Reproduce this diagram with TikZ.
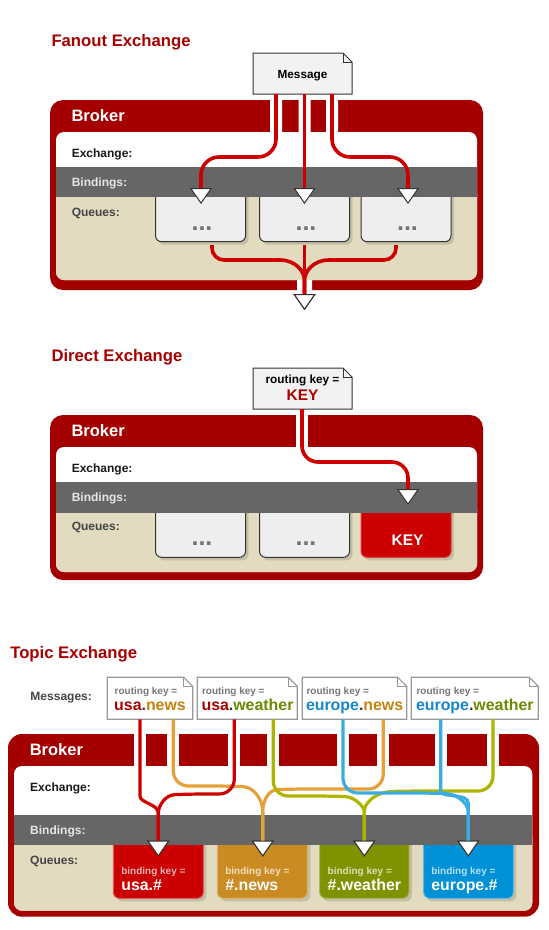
\documentclass[tikz,border=0pt]{standalone}
\usepackage{fontspec}
\setmainfont{Liberation Sans}
\usetikzlibrary{arrows.meta,calc}
\definecolor{brokerred}{HTML}{A40000}
\definecolor{titlered}{HTML}{A80000}
\definecolor{beige}{HTML}{E2DBBF}
\definecolor{bandgray}{HTML}{666666}
\definecolor{linered}{HTML}{CC0000}
\definecolor{qred}{HTML}{CC0000}
\definecolor{qorange}{HTML}{C98B22}
\definecolor{qolive}{HTML}{7F9200}
\definecolor{qblue}{HTML}{0091D6}
\definecolor{lorange}{HTML}{E5A03A}
\definecolor{lolive}{HTML}{AEB500}
\definecolor{lblue}{HTML}{3BACE2}
\definecolor{tred}{HTML}{AA0000}
\definecolor{torange}{HTML}{C4820E}
\definecolor{tolive}{HTML}{6B8A00}
\definecolor{tblue}{HTML}{1787C9}
\definecolor{tdot}{HTML}{333333}
\definecolor{notegray}{HTML}{F2F2F2}
\definecolor{qlightfill}{HTML}{EEEEEE}
\definecolor{bindtxt}{HTML}{E6E6E6}
\definecolor{qtxt}{HTML}{444444}
\definecolor{rkgray}{HTML}{777777}
\definecolor{arrowgray}{HTML}{333333}
\newcommand\fsz[1]{\fontsize{#1}{#1}\selectfont}
\newcommand\notebox[6]{%
  \node[inner sep=0pt, outer sep=0pt, minimum width={#4-#2}, minimum height={#5-#3}] (#1) at ({(#2+#4)/2},{(#3+#5)/2}) {};
  \filldraw[#6] (#1.south west) -- (#1.north west) -- ($(#1.north east)+(-9,0)$) -- ($(#1.north east)+(0,9)$) -- (#1.south east) -- cycle;
  \draw[#6,fill=none] ($(#1.north east)+(-9,0)$) -- ($(#1.north east)+(-9,9)$) -- ($(#1.north east)+(0,9)$);
}
\newcommand\queuebox[6]{%
  \fill[black, opacity=0.13, rounded corners=6] ({#2+3},{#4+3}) rectangle ({#3+3},{#5+3});
  \node[inner sep=0pt, outer sep=0pt, minimum width={#3-#2}, minimum height={#5-#4}, rounded corners=6, #6] (#1) at ({(#2+#3)/2},{(#4+#5)/2}) {};
}
\begin{document}
\begin{tikzpicture}[x=1pt,y=-1pt,
  every node/.style={inner sep=0pt, outer sep=0pt},
  title/.style={anchor=base west, font=\bfseries\fsz{16.7}, text=titlered},
  brokertxt/.style={anchor=base west, font=\bfseries\fsz{16.5}, text=white},
  lbl/.style={anchor=base west, font=\bfseries\fsz{12}, text=black!90},
  dots/.style={anchor=base, font=\bfseries\fsz{25}, text=black!55},
  note/.style={fill=notegray, draw=arrowgray, line width=1pt},
  notet/.style={fill=white, draw=black!40, line width=1.2pt},
  qlight/.style={fill=qlightfill, draw=arrowgray, line width=1pt},
  qkey/.style={fill=qred, draw=qred!75!white, line width=1pt},
  qc/.style={fill=#1, draw=#1!65!white, line width=1pt},
  bk/.style={anchor=base west, font=\bfseries\fsz{10}},
  bv/.style={anchor=base west, font=\bfseries\fsz{15.9}, text=white},
  flowtip/.style={-{Triangle[width=22pt,length=16pt,fill=white,color=arrowgray,line width=1pt]}},
  fanline/.style={draw=linered, line width=3.6pt, rounded corners=18, flowtip},
  tline/.style={draw=#1, line width=3.2pt, rounded corners=15, flowtip},
]
\useasboundingbox (0,0) rectangle (549,930);

% ================= Fanout =================
\node[title] (tF) at (51.5,46) {Fanout Exchange};
\fill[brokerred, rounded corners=13] (50,100) rectangle (483,290);
\fill[white] (270,100) rectangle (282,132) (298.5,100) rectangle (310.5,132) (326,100) rectangle (338,132) (297,280) rectangle (312,290);
\fill[white, rounded corners=8] (56,132) rectangle (477,280);
\fill[beige, rounded corners=8] (56,185) rectangle (477,280);
\queuebox{qF1}{155.5}{245.5}{185}{241.7}{qlight}
\queuebox{qF2}{259.5}{349.5}{185}{241.7}{qlight}
\queuebox{qF3}{361}{451}{185}{241.7}{qlight}
\fill[bandgray] (56,167) rectangle (477,197);
\node[brokertxt] (kF) at (71.5,121.3) {Broker};
\node[lbl] (eF) at (71.8,157.3) {Exchange:};
\node[lbl, text=bindtxt] (bF) at (71.8,186) {Bindings:};
\node[lbl, text=qtxt] (uF) at (71.8,216) {Queues:};
\node[dots] (dF1) at (202,230) {...};
\node[dots] (dF2) at (306,230) {...};
\node[dots] (dF3) at (407.5,230) {...};
\notebox{mF}{253}{53}{352}{94}{note}
\node[anchor=base, font=\bfseries\fsz{11.8}] (mFt) at (302.5,78.7) {Message};
\coordinate (aF1) at (201,204);
\coordinate (aF2) at (304.5,204);
\coordinate (aF3) at (408,204);
\coordinate (aF4) at (304.5,310);
\draw[fanline] ($(mF.south west)+(23,0)$) -- (276,157) -- (201,157) -- (aF1);
\draw[fanline] ($(mF.south west)+(51.5,0)$) -- (aF2);
\draw[fanline] ($(mF.south west)+(79,0)$) -- (332,157) -- (408,157) -- (aF3);
\draw[fanline, rounded corners=12] ($(qF1.south)+(11.5,3.3)$) |- (268,260) .. controls (296,260) and (304.5,272) .. (304.5,292) -- (aF4);
\draw[fanline, rounded corners=12] ($(qF3.south)+(-10,3.3)$) |- (341,260) .. controls (313,260) and (304.5,272) .. (304.5,292) -- (aF4);
\draw[fanline] ($(qF2.south)+(0,3.3)$) -- (aF4);

% ================= Direct =================
\node[title] (tD) at (51.5,361) {Direct Exchange};
\fill[brokerred, rounded corners=13] (50,415) rectangle (483,580);
\fill[white] (296,415) rectangle (308,447);
\fill[white, rounded corners=8] (56,447) rectangle (477,572);
\fill[beige, rounded corners=8] (56,500) rectangle (477,572);
\queuebox{qD1}{155.5}{245.5}{500}{557.3}{qlight}
\queuebox{qD2}{259.5}{349.5}{500}{557.3}{qlight}
\queuebox{qD3}{361}{451}{500}{557.3}{qkey}
\fill[bandgray] (56,482) rectangle (477,513);
\node[brokertxt] (kD) at (71.5,436.3) {Broker};
\node[lbl] (eD) at (71.8,472) {Exchange:};
\node[lbl, text=bindtxt] (bD) at (71.8,501.3) {Bindings:};
\node[lbl, text=qtxt] (uD) at (71.8,530.7) {Queues:};
\node[dots] (dD1) at (202,545) {...};
\node[dots] (dD2) at (306,545) {...};
\node[anchor=base, font=\bfseries\fsz{15.4}, text=white] (kyD) at (407.5,545.3) {KEY};
\notebox{mD}{253}{368}{352}{409}{note}
\node[anchor=base, font=\bfseries\fsz{11.8}] (mDt) at (302.5,383.3) {routing key =};
\node[anchor=base, font=\bfseries\fsz{15.4}, text=tred] (mDk) at (302.5,400.3) {KEY};
\coordinate (aD) at (408,505);
\draw[fanline, rounded corners=16] ($(mD.south west)+(49,0)$) -- (302,462) -- (408,462) -- (aD);

% ================= Topic =================
\node[title] (tT) at (10.3,658.3) {Topic Exchange};
\node[lbl, text=qtxt] (msgT) at (30.5,700.3) {Messages:};
\notebox{mT1}{107.3}{677.3}{192.7}{719.3}{notet}
\notebox{mT2}{197.3}{677.3}{297.3}{719.3}{notet}
\notebox{mT3}{302.3}{677.3}{406.7}{719.3}{notet}
\notebox{mT4}{411.3}{677.3}{538.3}{719.3}{notet}
\node[anchor=base, font=\bfseries\fsz{15.9}] (kT1) at (150,710) {\textcolor{tred}{usa}\textcolor{tdot}{.}\textcolor{torange}{news}};
\node[anchor=base, font=\bfseries\fsz{15.9}] (kT2) at (247.5,710) {\textcolor{tred}{usa}\textcolor{tdot}{.}\textcolor{tolive}{weather}};
\node[anchor=base, font=\bfseries\fsz{15.9}] (kT3) at (354.6,710) {\textcolor{tblue}{europe}\textcolor{tdot}{.}\textcolor{torange}{news}};
\node[anchor=base, font=\bfseries\fsz{15.9}] (kT4) at (474.8,710) {\textcolor{tblue}{europe}\textcolor{tdot}{.}\textcolor{tolive}{weather}};
\node[bk, text=rkgray] (rT1) at ($(kT1.base west)+(0.5,-15.7)$) {routing key =};
\node[bk, text=rkgray] (rT2) at ($(kT2.base west)+(0.5,-15.7)$) {routing key =};
\node[bk, text=rkgray] (rT3) at ($(kT3.base west)+(0.5,-15.7)$) {routing key =};
\node[bk, text=rkgray] (rT4) at ($(kT4.base west)+(0.5,-15.7)$) {routing key =};

\fill[brokerred, rounded corners=14] (8,734) rectangle (539,916.7);
\foreach \g in {140,173.3,234.3,273.3,343,383.3,440.7,493}
  \fill[white] ({\g-6},734) rectangle ({\g+6},766);
\fill[white, rounded corners=8] (14,766) rectangle (532.3,910.7);
\fill[beige, rounded corners=8] (14,830) rectangle (532.3,910.7);
\queuebox{qT1}{113.3}{203.3}{830}{898.3}{qc=qred}
\queuebox{qT2}{217.3}{307.3}{830}{898.3}{qc=qorange}
\queuebox{qT3}{319.7}{409}{830}{898.3}{qc=qolive}
\queuebox{qT4}{423.7}{513.3}{830}{898.3}{qc=qblue}
\fill[bandgray] (14,815) rectangle (532.3,845);
\node[brokertxt] (kT) at (29.8,755) {Broker};
\node[lbl] (eT) at (30.2,791.3) {Exchange:};
\node[lbl, text=bindtxt] (bT) at (30.2,834.3) {Bindings:};
\node[lbl, text=qtxt] (uT) at (30.2,864.3) {Queues:};

\node[bk, text=white!72!qred] (bkT1) at (121.3,874.3) {binding key =};
\node[bv] (bvT1) at (121.3,890) {usa.\#};
\node[bk, text=white!72!qorange] (bkT2) at (225.3,874.3) {binding key =};
\node[bv] (bvT2) at (225.3,890) {\#.news};
\node[bk, text=white!72!qolive] (bkT3) at (327.7,874.3) {binding key =};
\node[bv] (bvT3) at (327.7,890) {\#.weather};
\node[bk, text=white!72!qblue] (bkT4) at (431.3,874.3) {binding key =};
\node[bv] (bvT4) at (431.3,890) {europe.\#};

\coordinate (aT1) at (158.3,856.7);
\coordinate (aT2) at (262.7,856.7);
\coordinate (aT3) at (364.3,856.7);
\coordinate (aT4) at (468.3,856.7);
% orange
\draw[tline=lorange] ($(mT1.south west)+(66,0)$) -- (173.3,786) -- (228,786) .. controls (254,787) and (262.7,800) .. (262.7,826) -- (aT2);
\draw[tline=lorange] ($(mT3.south west)+(81,0)$) -- (383.3,789) -- (292,789) .. controls (268,790) and (262.7,802) .. (262.7,826) -- (aT2);
% olive
\draw[tline=lolive] ($(mT2.south west)+(76,0)$) -- (273.3,796) -- (330,796) .. controls (356,797) and (364.3,808) .. (364.3,826) -- (aT3);
\draw[tline=lolive] ($(mT4.south west)+(81.7,0)$) -- (493,791) -- (408,791) .. controls (374,792) and (364.3,804) .. (364.3,826) -- (aT3);
% blue
\draw[tline=lblue] ($(mT3.south west)+(40.7,0)$) -- (343,793) -- (430,793) .. controls (460,794) and (468.3,806) .. (468.3,826) -- (aT4);
\draw[tline=lblue] ($(mT4.south west)+(29.4,0)$) -- (440.7,776) .. controls (440.7,798) and (468.3,793) .. (468.3,818) -- (aT4);
% red
\draw[tline=linered] ($(mT1.south west)+(32.7,0)$) -- (140,781) .. controls (140,803) and (158.3,804) .. (158.3,828) -- (aT1);
\draw[tline=linered] ($(mT2.south west)+(37,0)$) -- (234.3,794) -- (190,794) .. controls (165,795) and (158.3,806) .. (158.3,828) -- (aT1);
\end{tikzpicture}
\end{document}
